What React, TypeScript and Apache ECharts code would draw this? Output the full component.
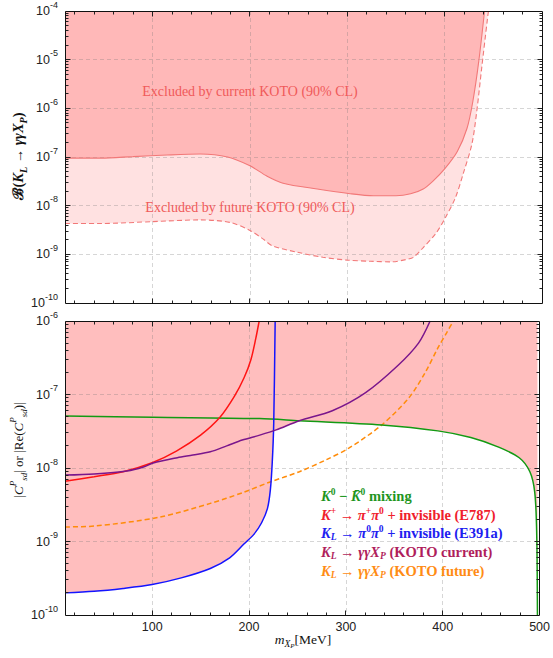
import React, { useEffect, useRef } from "react";
import * as echarts from "echarts";

// ---------------- data ----------------
const X_MIN = 10;
const X_MAX = 500;

// Top panel: B(K_L -> gamma gamma X_P) upper limits (MeV, branching ratio)
const currentKotoBound: number[][] = [
  [10, 9.5e-8], [47, 9.5e-8], [80, 1.02e-7], [115, 1.1e-7], [149, 1.15e-7],
  [177, 1.0e-7], [200, 6.6e-8], [217, 4.1e-8], [234, 2.9e-8], [269, 2.2e-8],
  [303, 1.76e-8], [327, 1.6e-8], [350, 1.6e-8], [365, 1.75e-8], [378, 2.2e-8],
  [388, 3.2e-8], [400, 5.7e-8], [413, 1.3e-7], [423, 3.9e-7], [429, 1.4e-6],
  [435, 9.1e-6], [441, 1e-4],
];
const futureKotoBound: number[][] = [
  [10, 4.3e-9], [47, 4.3e-9], [100, 4.7e-9], [149, 5.1e-9], [180, 4.5e-9],
  [200, 3.1e-9], [213, 2.1e-9], [223, 1.5e-9], [249, 1.1e-9], [275, 8.7e-10],
  [300, 7.6e-10], [324, 7.2e-10], [345, 7.0e-10], [360, 7.8e-10], [368, 8.7e-10],
  [378, 1.38e-9], [391, 2.7e-9], [401, 5.8e-9], [411, 1.45e-8], [419, 4.5e-8],
  [428, 1.85e-7], [433, 8.7e-7], [438, 6.6e-6], [444, 7e-5], [445, 1e-4],
];

// Bottom panel: |C_sd^P| bounds
const k0Mixing: number[][] = [
  [10, 5.1e-8], [101, 4.9e-8], [211, 4.7e-8], [252, 4.4e-8], [337, 3.85e-8],
  [395, 3.2e-8], [429, 2.6e-8], [457, 1.94e-8], [479, 1.38e-8], [490, 8.9e-9],
  [495, 4.7e-9], [497, 1.35e-9], [497.8, 1e-10],
];
const e787Bound: number[][] = [
  [10, 6.6e-9], [40, 7.6e-9], [70, 8.9e-9], [100, 1.18e-8], [125, 1.7e-8],
  [150, 2.8e-8], [170, 4.9e-8], [185, 9.5e-8], [195, 1.7e-7], [202, 3.0e-7],
  [207, 5.8e-7], [210.5, 1e-6],
];
const e391aBound: number[][] = [
  [10, 2.0e-10], [40, 2.1e-10], [70, 2.3e-10], [100, 2.6e-10], [130, 3.2e-10],
  [160, 4.3e-10], [180, 6.0e-10], [195, 9.3e-10], [205, 1.25e-9], [213, 1.8e-9],
  [219, 2.8e-9], [222, 5e-9], [224, 1.2e-8], [225.5, 4e-8], [227, 1e-6],
];
const kotoCurrentBound: number[][] = [
  [10, 8.0e-9], [40, 8.3e-9], [74, 9.1e-9], [91, 1.03e-8], [101, 1.17e-8],
  [126, 1.38e-8], [142, 1.5e-8], [160, 1.66e-8], [177, 2.0e-8], [193, 2.4e-8],
  [211, 2.8e-8], [228, 3.3e-8], [252, 4.4e-8], [286, 6.0e-8], [320, 1.05e-7],
  [354, 2.5e-7], [375, 5e-7], [387, 1e-6],
];
const kotoFutureBound: number[][] = [
  [10, 1.58e-9], [40, 1.62e-9], [108, 2.15e-9], [160, 3.3e-9], [193, 4.6e-9],
  [221, 6.4e-9], [252, 8.9e-9], [280, 1.3e-8], [303, 1.86e-8], [337, 3.85e-8],
  [365, 9e-8], [382, 2.0e-7], [395, 4.3e-7], [404, 6.9e-7], [411, 1e-6],
];

const TOP_EXP = [-10, -4];
const BOTTOM_EXP = [-10, -6];
const X_LABELS = [100, 200, 300, 400, 500];

// ---------------- styles ----------------
const SANS = "'Liberation Sans', Arial, sans-serif";
const SERIF = "'Liberation Serif', 'Times New Roman', serif";

const COLORS = {
  darkFill: "#ffb8b8",
  lightFill: "#ffe1e1",
  bound: "#f27878",
  bottomFill: "#ffbebe",
  green: "#139a13",
  red: "#ff1414",
  blue: "#1414ff",
  purple: "#7a168c",
  orange: "#ff8c0a",
};

const splitLine = {
  show: true,
  showMinLine: false,
  showMaxLine: false,
  lineStyle: { color: "rgba(120,120,120,0.3)", type: [4, 3], width: 1 },
};

const yLabel = {
  margin: 7,
  formatter: (v: number) => {
    const e = Math.round(Math.log10(v));
    return `{b|10}{s|${e}}`;
  },
  rich: {
    b: { fontSize: 12.5, fontFamily: SANS, color: "#222", lineHeight: 22 },
    s: { fontSize: 9, fontFamily: SANS, color: "#222", lineHeight: 8, verticalAlign: "top" },
  },
};

function frameRenderer(expLo: number, expHi: number) {
  return (params: any, api: any) => {
    const cs = params.coordSys;
    const stroke = "#222";
    const children: any[] = [];
    const r = (p: number) => Math.round(p - 0.5) + 0.5;
    const left = r(cs.x);
    const right = r(cs.x + cs.width);
    const top = r(cs.y);
    const bottom = r(cs.y + cs.height);
    for (let e = expLo; e < expHi; e++) {
      for (let k = 1; k <= 9; k++) {
        if (e === expLo && k === 1) continue;
        const v = k * Math.pow(10, e);
        const py = r(api.coord([X_MIN, v])[1]);
        const len = k === 1 ? 5 : 3;
        children.push({ type: "line", shape: { x1: left, y1: py, x2: left + len, y2: py }, style: { stroke, lineWidth: 1 } });
        children.push({ type: "line", shape: { x1: right - len, y1: py, x2: right, y2: py }, style: { stroke, lineWidth: 1 } });
      }
    }
    for (let v = 20; v < X_MAX; v += 20) {
      const px = r(api.coord([v, Math.pow(10, expLo + 1)])[0]);
      const len = v % 100 === 0 ? 5 : 3;
      children.push({ type: "line", shape: { x1: px, y1: bottom, x2: px, y2: bottom - len }, style: { stroke, lineWidth: 1 } });
      children.push({ type: "line", shape: { x1: px, y1: top, x2: px, y2: top + len }, style: { stroke, lineWidth: 1 } });
    }
    children.push({
      type: "rect",
      shape: { x: left, y: top, width: right - left, height: bottom - top },
      style: { fill: "none", stroke: "#111", lineWidth: 1 },
    });
    return { type: "group", children };
  };
}

function legendRich(color: string) {
  const base = { fill: color, fontFamily: SERIF, fontWeight: "bold", fontSize: 14.5, lineHeight: 18 };
  return {
    n: { ...base },
    i: { ...base, fontStyle: "italic" },
    p: { ...base, fontSize: 9.5, lineHeight: 10, verticalAlign: "top" },
    b: { ...base, fontSize: 9.5, fontStyle: "italic", lineHeight: 10, verticalAlign: "bottom" },
  };
}

function textEl(x: number, y: number, text: string, rich: any, opts: any = {}) {
  return {
    type: "text",
    x,
    y,
    z: 100,
    rotation: opts.rotation || 0,
    silent: true,
    style: {
      text,
      rich,
      align: opts.align || "left",
      verticalAlign: "middle",
      textAlign: opts.align || "left",
      textVerticalAlign: "middle",
    },
  };
}

const legendLines = [
  { color: "#1e961e", text: "{i|K}{p|0}{n| − }{i|K̄}{p|0}{n| mixing}" },
  { color: "#f0202c", text: "{i|K}{p|+}{n| → }{i|π}{p|+}{i|π}{p|0}{n| + invisible (E787)}" },
  { color: "#2020f0", text: "{i|K}{b|L}{n| → }{i|π}{p|0}{i|π}{p|0}{n| + invisible (E391a)}" },
  { color: "#b01e5c", text: "{i|K}{b|L}{n| → }{i|γγX}{b|P}{n| (KOTO current)}" },
  { color: "#ff8c14", text: "{i|K}{b|L}{n| → }{i|γγX}{b|P}{n| (KOTO future)}" },
];

const SMOOTH = 0.3;

function lineSeries(data: number[][], xi: number, color: string, width: number, dashed = false) {
  return {
    type: "line",
    xAxisIndex: xi,
    yAxisIndex: xi,
    data,
    symbol: "none",
    smooth: SMOOTH,
    z: 5,
    silent: true,
    lineStyle: { color, width, type: dashed ? [5, 3] : "solid" },
  };
}

function fillSeries(data: number[][], xi: number, color: string, z: number) {
  return {
    type: "line",
    xAxisIndex: xi,
    yAxisIndex: xi,
    data,
    symbol: "none",
    smooth: SMOOTH,
    z,
    silent: true,
    lineStyle: { width: 0, opacity: 0 },
    areaStyle: { color, opacity: 1, origin: "end" },
  };
}

export default function App() {
  const ref = useRef<HTMLDivElement>(null);
  useEffect(() => {
    document.body.style.margin = "0";
    const chart = echarts.init(ref.current!, undefined, { renderer: "svg" });

    const nameBold = { fill: "#111", fontFamily: SERIF, fontWeight: "bold", fontSize: 14.5, lineHeight: 20 };
    const topNameRich = {
      n: { ...nameBold },
      i: { ...nameBold, fontStyle: "italic" },
      s: { ...nameBold, fontStyle: "italic", fontSize: 10, lineHeight: 10, verticalAlign: "bottom" },
    };
    const nameReg = { fill: "#111", fontFamily: SERIF, fontSize: 13, lineHeight: 20 };
    const bottomNameRich = {
      n: { ...nameReg },
      i: { ...nameReg, fontStyle: "italic" },
      p: { ...nameReg, fontStyle: "italic", fontSize: 9, lineHeight: 10, verticalAlign: "top" },
      s: { ...nameReg, fontStyle: "italic", fontSize: 9, lineHeight: 10, verticalAlign: "bottom" },
    };
    const xNameRich = {
      n: { ...nameReg, fontSize: 13.5 },
      i: { ...nameReg, fontSize: 13.5, fontStyle: "italic" },
      s: { ...nameReg, fontStyle: "italic", fontSize: 9.5, lineHeight: 14, verticalAlign: "bottom" },
      ss: { ...nameReg, fontStyle: "italic", fontSize: 7, lineHeight: 8, verticalAlign: "bottom" },
    };
    const excludedRich = {
      t: { fill: "#f05a5a", fontFamily: SERIF, fontSize: 14, lineHeight: 18 },
    };

    const option: any = {
      animation: false,
      grid: [
        { left: 65, top: 9, width: 477, height: 294 },
        { left: 65, top: 321, width: 477, height: 294 },
      ],
      xAxis: [
        {
          gridIndex: 0, type: "value", min: X_MIN, max: X_MAX, splitNumber: 5, z: 3,
          axisLine: { show: false }, axisTick: { show: false }, axisLabel: { show: false }, splitLine,
        },
        {
          gridIndex: 1, type: "value", min: X_MIN, max: X_MAX, splitNumber: 5, z: 3,
          axisLine: { show: false }, axisTick: { show: false },
          axisLabel: {
            show: true, margin: 5, fontSize: 12.5, fontFamily: SANS, color: "#222",
            formatter: (v: number) => (X_LABELS.includes(v) ? String(v) : ""),
          },
          splitLine,
        },
      ],
      yAxis: [
        {
          gridIndex: 0, type: "log", logBase: 10, min: Math.pow(10, TOP_EXP[0]), max: Math.pow(10, TOP_EXP[1]), z: 3,
          axisLine: { show: false }, axisTick: { show: false }, axisLabel: yLabel, splitLine,
        },
        {
          gridIndex: 1, type: "log", logBase: 10, min: Math.pow(10, BOTTOM_EXP[0]), max: Math.pow(10, BOTTOM_EXP[1]), z: 3,
          axisLine: { show: false }, axisTick: { show: false }, axisLabel: yLabel, splitLine,
        },
      ],
      series: [
        fillSeries(futureKotoBound, 0, COLORS.lightFill, 1),
        fillSeries(currentKotoBound, 0, COLORS.darkFill, 2),
        lineSeries(futureKotoBound, 0, COLORS.bound, 1.1, true),
        lineSeries(currentKotoBound, 0, COLORS.bound, 1.1),

        fillSeries(e391aBound, 1, COLORS.bottomFill, 1),
        fillSeries(kotoCurrentBound, 1, COLORS.bottomFill, 1),
        fillSeries(k0Mixing, 1, COLORS.bottomFill, 1),
        lineSeries(kotoFutureBound, 1, COLORS.orange, 1.5, true),
        lineSeries(k0Mixing, 1, COLORS.green, 1.5),
        lineSeries(e787Bound, 1, COLORS.red, 1.5),
        lineSeries(e391aBound, 1, COLORS.blue, 1.5),
        lineSeries(kotoCurrentBound, 1, COLORS.purple, 1.5),

        {
          type: "custom", xAxisIndex: 0, yAxisIndex: 0, z: 10, silent: true,
          data: [[100, 1e-7]], renderItem: frameRenderer(TOP_EXP[0], TOP_EXP[1]),
        },
        {
          type: "custom", xAxisIndex: 1, yAxisIndex: 1, z: 10, silent: true,
          data: [[100, 1e-8]], renderItem: frameRenderer(BOTTOM_EXP[0], BOTTOM_EXP[1]),
        },
      ],
      graphic: [
        textEl(250, 91, "{t|Excluded by current KOTO (90% CL)}", excludedRich, { align: "center" }),
        textEl(250, 207, "{t|Excluded by future KOTO (90% CL)}", excludedRich, { align: "center" }),
        textEl(18, 156, "{n|ℬ(}{i|K}{s|L}{n| → }{i|γγX}{s|P}{n|)}", topNameRich, { align: "center", rotation: Math.PI / 2 }),
        textEl(18, 450, "{n||}{i|C}{p|P}{s|sd}{n|| or |Re(}{i|C}{p|P}{s|sd}{n|)|}", bottomNameRich, { align: "center", rotation: Math.PI / 2 }),
        textEl(303, 639, "{i|m}{s|X}{ss|P}{n|[MeV]}", xNameRich, { align: "center" }),
        ...legendLines.map((l, idx) => textEl(321, 496 + idx * 18.7, l.text, legendRich(l.color))),
      ],
    };
    chart.setOption(option);
    return () => chart.dispose();
  }, []);
  return <div ref={ref} style={{ position: "absolute", left: 0, top: 0, width: 553, height: 658 }} />;
}
